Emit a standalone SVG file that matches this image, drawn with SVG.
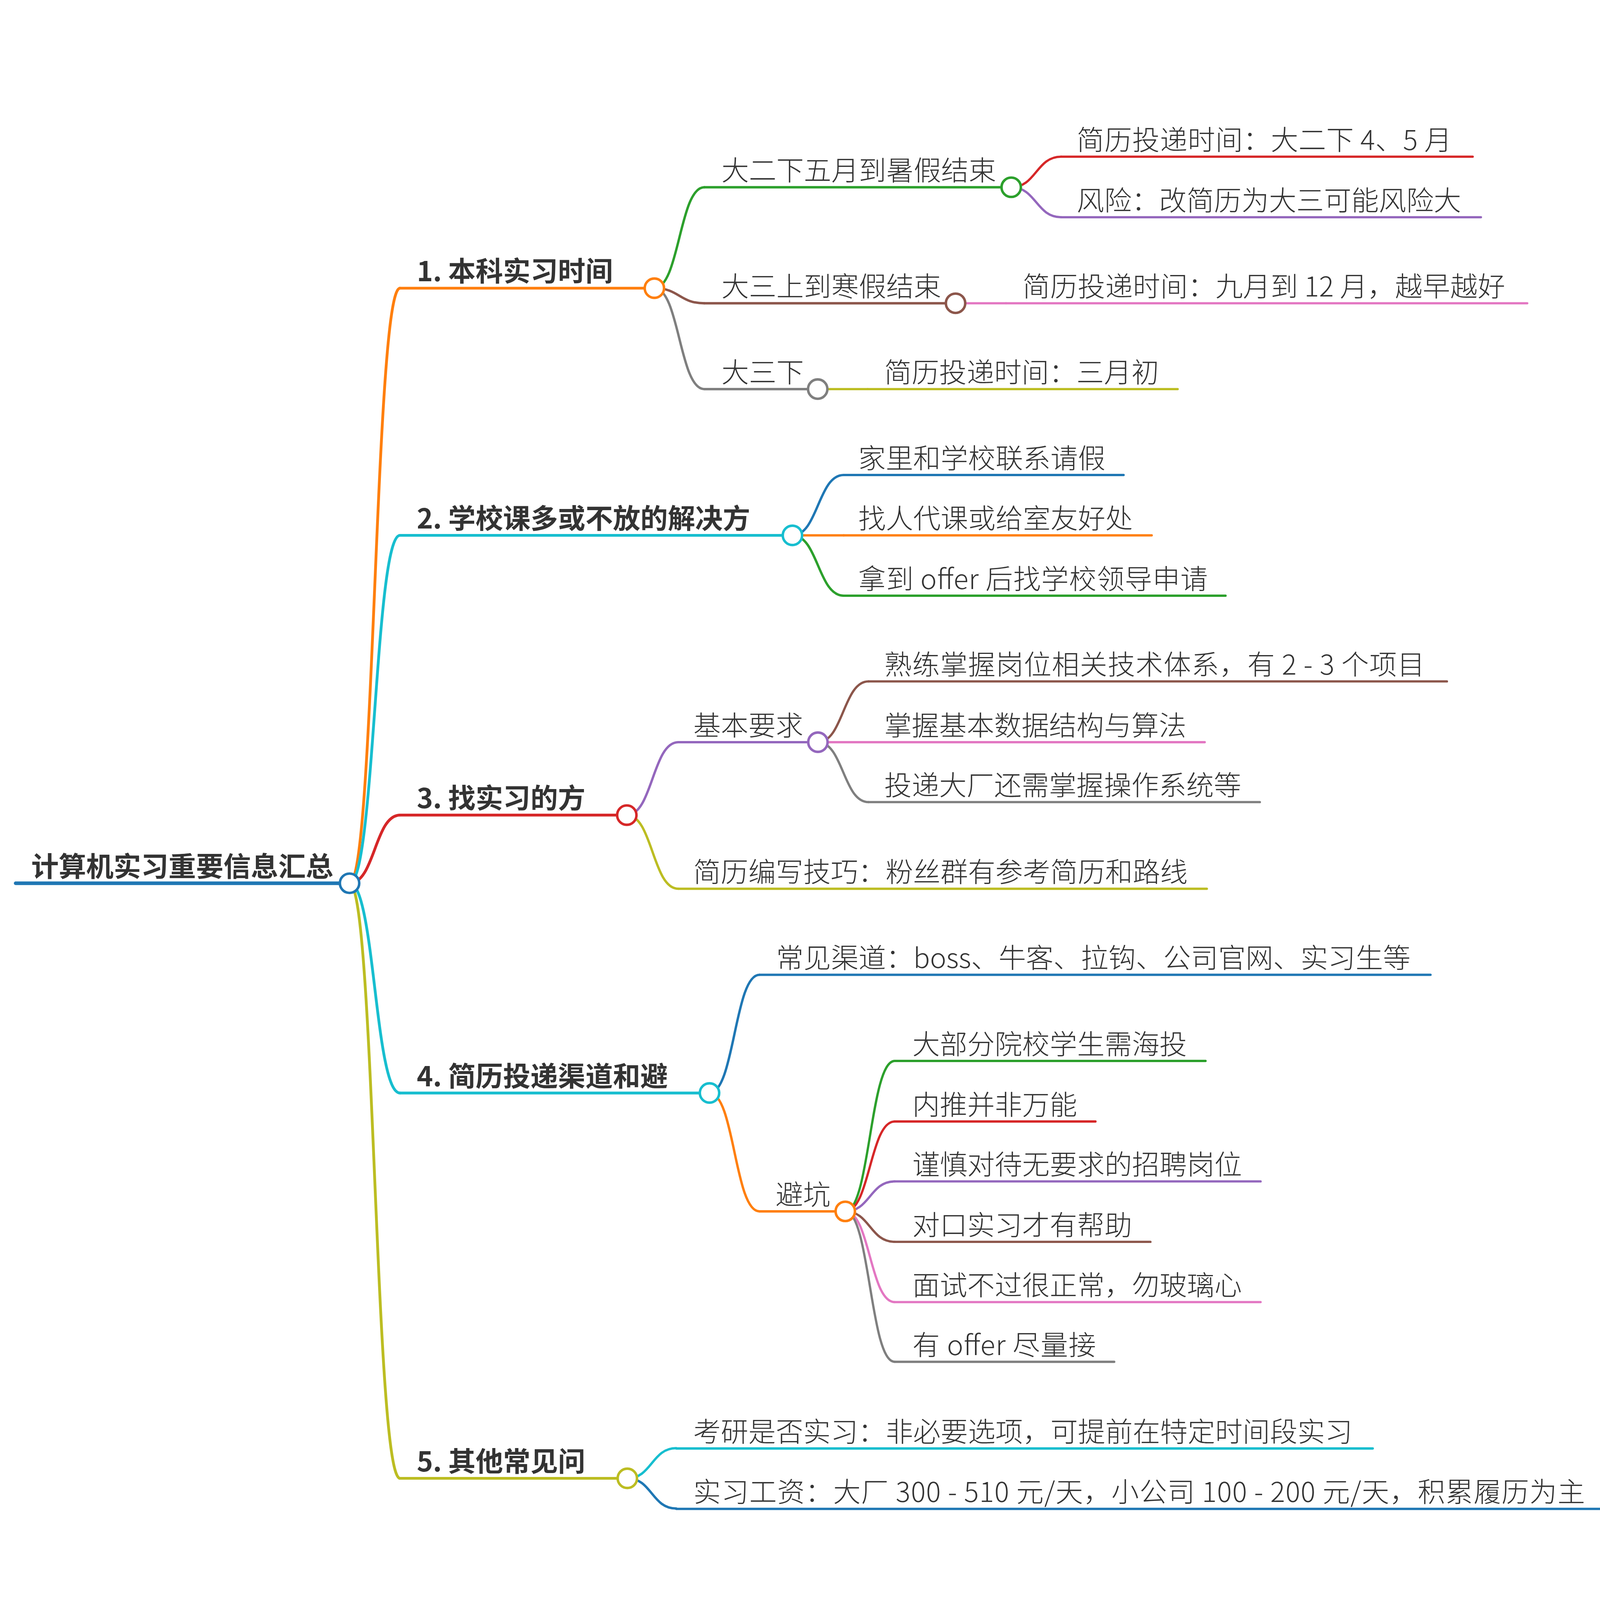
<svg xmlns="http://www.w3.org/2000/svg" width="4176" height="4176" viewBox="0 0 4176 4176">
<style>
text{font-family:"Noto Sans CJK SC","Noto Sans",sans-serif;fill:#333;font-size:26.4px}
.b{font-weight:700}
.n{font-weight:300}
path,line{fill:none;stroke-linecap:round}
circle{fill:#fff;stroke-width:2.4}
.d0{stroke-width:3.4}
.d1{stroke-width:2.7}
.d2{stroke-width:2.3}
.d3{stroke-width:2.2}
.c0{stroke:#1f77b4}.c1{stroke:#ff7f0e}.c2{stroke:#2ca02c}.c3{stroke:#d62728}.c4{stroke:#9467bd}
.c5{stroke:#8c564b}.c6{stroke:#e377c2}.c7{stroke:#7f7f7f}.c8{stroke:#bcbd22}.c9{stroke:#17becf}
</style>
<rect width="4176" height="4176" fill="#fff"/>
<g transform="scale(2.66327)">
<g id="connectors">
<path class="d1 c1" d="M336 849C360.25 849 360.25 277 384.5 277"/>
<path class="d1 c9" d="M336 849C360.25 849 360.25 514.6 384.5 514.6"/>
<path class="d1 c3" d="M336 849C360.25 849 360.25 783.5 384.5 783.5"/>
<path class="d1 c9" d="M336 849C360.25 849 360.25 1050.6 384.5 1050.6"/>
<path class="d1 c8" d="M336 849C360.25 849 360.25 1421 384.5 1421"/>
<path class="d2 c2" d="M629 277C653 277 653 180 677 180"/>
<path class="d2 c5" d="M629 277C653 277 653 291.5 677 291.5"/>
<path class="d2 c7" d="M629 277C653 277 653 374 677 374"/>
<path class="d3 c3" d="M972 180C996 180 996 150.6 1020 150.6"/>
<path class="d3 c4" d="M972 180C996 180 996 208.8 1020 208.8"/>
<path class="d3 c6" d="M918.5 291.5H967"/>
<path class="d3 c8" d="M786 374H834"/>
<path class="d2 c0" d="M761.7 514.6C786.3 514.6 786.3 456.6 811 456.6"/>
<path class="d2 c1" d="M761.7 514.6H811"/>
<path class="d2 c2" d="M761.7 514.6C786.3 514.6 786.3 572.6 811 572.6"/>
<path class="d2 c4" d="M602.5 783.5C627.2 783.5 627.2 713.4 652 713.4"/>
<path class="d2 c8" d="M602.5 783.5C627.2 783.5 627.2 854.3 652 854.3"/>
<path class="d3 c5" d="M786.2 713.4C810.5 713.4 810.5 655 834.8 655"/>
<path class="d3 c6" d="M786.2 713.4H834.8"/>
<path class="d3 c7" d="M786.2 713.4C810.5 713.4 810.5 771 834.8 771"/>
<path class="d2 c0" d="M682 1050.6C706 1050.6 706 937 730 937"/>
<path class="d2 c1" d="M682 1050.6C706 1050.6 706 1164.4 730 1164.4"/>
<path class="d3 c2" d="M812.5 1164.4C836.2 1164.4 836.2 1019.8 860 1019.8"/>
<path class="d3 c3" d="M812.5 1164.4C836.2 1164.4 836.2 1078 860 1078"/>
<path class="d3 c4" d="M812.5 1164.4C836.2 1164.4 836.2 1135.6 860 1135.6"/>
<path class="d3 c5" d="M812.5 1164.4C836.2 1164.4 836.2 1193.7 860 1193.7"/>
<path class="d3 c6" d="M812.5 1164.4C836.2 1164.4 836.2 1251.6 860 1251.6"/>
<path class="d3 c7" d="M812.5 1164.4C836.2 1164.4 836.2 1309 860 1309"/>
<path class="d2 c9" d="M603 1421C626.5 1421 626.5 1392 650 1392"/>
<path class="d2 c0" d="M603 1421C626.5 1421 626.5 1450 650 1450"/>
</g>

<g id="root">
<line class="d0 c0" x1="15" y1="849" x2="336" y2="849"/>
<text class="b" x="30" y="842.5">计算机实习重要信息汇总</text>
<circle class="c0" cx="336" cy="849" r="9.3"/>
</g>

<g id="n1">
<line class="d1 c1" x1="384.5" y1="277" x2="629" y2="277"/>
<text class="b" x="400.6" y="270.5">1. 本科实习时间</text>
<circle class="c1" cx="629" cy="277" r="9.3"/>
</g>
<g id="n1a">
<line class="d2 c2" x1="677" y1="180" x2="972" y2="180"/>
<text class="n" x="693.5" y="173.5">大二下五月到暑假结束</text>
<circle class="c2" cx="972" cy="180" r="9.3"/>
</g>
<g id="n1a1">
<line class="d3 c3" x1="1020" y1="150.6" x2="1415.6" y2="150.6"/>
<text class="n" x="1035" y="144.1" textLength="360.5" lengthAdjust="spacing">简历投递时间：大二下 4、5 月</text>
</g>
<g id="n1a2">
<line class="d3 c4" x1="1020" y1="208.8" x2="1423.5" y2="208.8"/>
<text class="n" x="1035" y="202.3">风险：改简历为大三可能风险大</text>
</g>
<g id="n1b">
<line class="d2 c5" x1="677" y1="291.5" x2="918.5" y2="291.5"/>
<text class="n" x="693.5" y="285">大三上到寒假结束</text>
<circle class="c5" cx="918.5" cy="291.5" r="9.3"/>
</g>
<g id="n1b1">
<line class="d3 c6" x1="967" y1="291.5" x2="1468" y2="291.5"/>
<text class="n" x="983" y="285" textLength="463.8" lengthAdjust="spacing">简历投递时间：九月到 12 月，越早越好</text>
</g>
<g id="n1c">
<line class="d2 c7" x1="677" y1="374" x2="786" y2="374"/>
<text class="n" x="693.5" y="367.5">大三下</text>
<circle class="c7" cx="786" cy="374" r="9.3"/>
</g>
<g id="n1c1">
<line class="d3 c8" x1="834" y1="374" x2="1132" y2="374"/>
<text class="n" x="850" y="367.5">简历投递时间：三月初</text>
</g>

<g id="n2">
<line class="d1 c9" x1="384.5" y1="514.6" x2="761.7" y2="514.6"/>
<text class="b" x="400.6" y="508.1">2. 学校课多或不放的解决方</text>
<circle class="c9" cx="761.7" cy="514.6" r="9.3"/>
</g>
<g id="n2a">
<line class="d2 c0" x1="811" y1="456.6" x2="1080" y2="456.6"/>
<text class="n" x="825" y="450.1">家里和学校联系请假</text>
</g>
<g id="n2b">
<line class="d2 c1" x1="811" y1="514.6" x2="1107" y2="514.6"/>
<text class="n" x="825" y="508.1">找人代课或给室友好处</text>
</g>
<g id="n2c">
<line class="d2 c2" x1="811" y1="572.6" x2="1178" y2="572.6"/>
<text class="n" x="825" y="566.1" textLength="336" lengthAdjust="spacing">拿到 offer 后找学校领导申请</text>
</g>

<g id="n3">
<line class="d1 c3" x1="384.5" y1="783.5" x2="602.5" y2="783.5"/>
<text class="b" x="400.6" y="777">3. 找实习的方</text>
<circle class="c3" cx="602.5" cy="783.5" r="9.3"/>
</g>
<g id="n3a">
<line class="d2 c4" x1="652" y1="713.4" x2="786.2" y2="713.4"/>
<text class="n" x="666.5" y="706.9">基本要求</text>
<circle class="c4" cx="786.2" cy="713.4" r="9.3"/>
</g>
<g id="n3a1">
<line class="d3 c5" x1="834.8" y1="655" x2="1390.8" y2="655"/>
<text class="n" x="850" y="648.5" textLength="519.5" lengthAdjust="spacing">熟练掌握岗位相关技术体系，有 2 - 3 个项目</text>
</g>
<g id="n3a2">
<line class="d3 c6" x1="834.8" y1="713.4" x2="1158" y2="713.4"/>
<text class="n" x="850" y="706.9">掌握基本数据结构与算法</text>
</g>
<g id="n3a3">
<line class="d3 c7" x1="834.8" y1="771" x2="1211" y2="771"/>
<text class="n" x="850" y="764.5">投递大厂还需掌握操作系统等</text>
</g>
<g id="n3b">
<line class="d2 c8" x1="652" y1="854.3" x2="1160" y2="854.3"/>
<text class="n" x="666.5" y="847.8">简历编写技巧：粉丝群有参考简历和路线</text>
</g>

<g id="n4">
<line class="d1 c9" x1="384.5" y1="1050.6" x2="682" y2="1050.6"/>
<text class="b" x="400.6" y="1044.1">4. 简历投递渠道和避</text>
<circle class="c9" cx="682" cy="1050.6" r="9.3"/>
</g>
<g id="n4a">
<line class="d2 c0" x1="730" y1="937" x2="1375" y2="937"/>
<text class="n" x="746" y="930.5">常见渠道：boss、牛客、拉钩、公司官网、实习生等</text>
</g>
<g id="n4b">
<line class="d2 c1" x1="730" y1="1164.4" x2="812.5" y2="1164.4"/>
<text class="n" x="745.5" y="1157.9">避坑</text>
<circle class="c1" cx="812.5" cy="1164.4" r="9.3"/>
</g>
<g id="n4b1">
<line class="d3 c2" x1="860" y1="1019.8" x2="1158.8" y2="1019.8"/>
<text class="n" x="877" y="1013.3">大部分院校学生需海投</text>
</g>
<g id="n4b2">
<line class="d3 c3" x1="860" y1="1078" x2="1053" y2="1078"/>
<text class="n" x="877" y="1071.5">内推并非万能</text>
</g>
<g id="n4b3">
<line class="d3 c4" x1="860" y1="1135.6" x2="1211.7" y2="1135.6"/>
<text class="n" x="877" y="1129.1">谨慎对待无要求的招聘岗位</text>
</g>
<g id="n4b4">
<line class="d3 c5" x1="860" y1="1193.7" x2="1105.8" y2="1193.7"/>
<text class="n" x="877" y="1187.2">对口实习才有帮助</text>
</g>
<g id="n4b5">
<line class="d3 c6" x1="860" y1="1251.6" x2="1211.7" y2="1251.6"/>
<text class="n" x="877" y="1245.1">面试不过很正常，勿玻璃心</text>
</g>
<g id="n4b6">
<line class="d3 c7" x1="860" y1="1309" x2="1071" y2="1309"/>
<text class="n" x="877" y="1302.5" textLength="176.5" lengthAdjust="spacing">有 offer 尽量接</text>
</g>

<g id="n5">
<line class="d1 c8" x1="384.5" y1="1421" x2="603" y2="1421"/>
<text class="b" x="400.6" y="1414.5">5. 其他常见问</text>
<circle class="c8" cx="603" cy="1421" r="9.3"/>
</g>
<g id="n5a">
<line class="d2 c9" x1="650" y1="1392.3" x2="1319.5" y2="1392.3"/>
<text class="n" x="666.5" y="1385.8">考研是否实习：非必要选项，可提前在特定时间段实习</text>
</g>
<g id="n5b">
<line class="d2 c0" x1="650" y1="1450.4" x2="1553" y2="1450.4"/>
<text class="n" x="666.5" y="1443.9" textLength="857" lengthAdjust="spacing">实习工资：大厂 300 - 510 元/天，小公司 100 - 200 元/天，积累履历为主</text>
</g>
</g>
</svg>
